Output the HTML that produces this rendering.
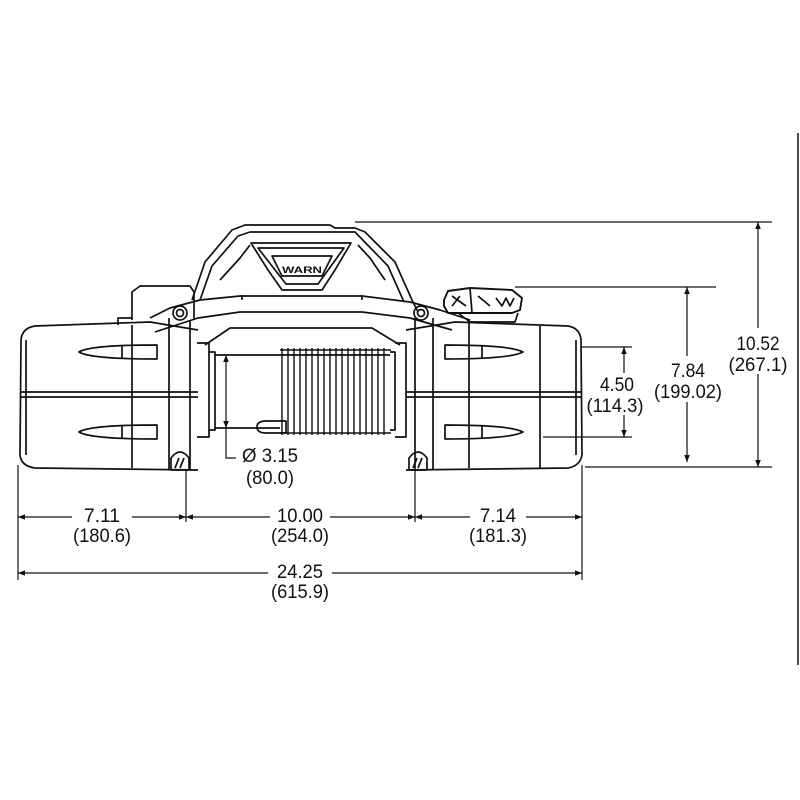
<!DOCTYPE html>
<html><head><meta charset="utf-8"><style>
html,body{margin:0;padding:0;background:#fff;}
svg{display:block;}
text{font-family:"Liberation Sans Narrow","Liberation Sans",sans-serif;font-size:19px;fill:#111;}
</style></head><body>
<svg width="800" height="800" viewBox="0 0 800 800" xmlns="http://www.w3.org/2000/svg">
<defs>
<marker id="a" viewBox="0 0 10 10" refX="10" refY="5" markerWidth="10" markerHeight="7" orient="auto-start-reverse" markerUnits="userSpaceOnUse"><path d="M0,1 L10,5 L0,9 z" fill="#111"/></marker>
</defs>
<rect width="800" height="800" fill="#fff"/>
<line x1="798" y1="133" x2="798" y2="665" stroke="#111" stroke-width="1.5"/>

<g fill="none" stroke="#111" stroke-width="1.7" stroke-linejoin="round">
<path d="M132,320 L132,292 L140,286 L190,286 L194,292 L194,320"/>
<path d="M118,325 L118,318 L132,318"/>
<path d="M192,300 L205,262 L232,230 L245,225 L330,225 L335,228 L355,228 L365,232 L395,262 L412,300 L418,312"/>
<path d="M200,300 L212,266 L238,236 L250,232 L355,232 L388,266 L404,302"/>
<path d="M220,280 L240,258 L250,245 M385,280 L370,258 L358,245"/>
<path d="M251,243 L351,243 L335,270 L322,290 L282,290 L268,270 Z"/>
<path d="M258,248 L344,248 L318,284 L286,284 Z"/>
<path d="M272,256 L332,256 L322,276 L282,276 Z"/>
<path d="M242,295 L242,300 M362,295 L362,300"/>
<path d="M150,318 L170,308 L200,300 L240,296 L362,296 L410,302 L440,310 L470,320"/>
<path d="M155,332 L198,318 L240,312 L362,312 L410,318 L452,330"/>
<path d="M205,345 L230,328 L372,328 L400,345"/>
<circle cx="180" cy="313" r="7"/><circle cx="180" cy="313" r="3.5"/>
<circle cx="421" cy="313" r="7"/><circle cx="421" cy="313" r="3.5"/>

<path d="M198,330 L150,322 L35,326 Q22,328 21,340 L20,455 Q21,466 35,468 L198,470"/>
<path d="M26,340 L26,455"/>
<path d="M21,397 L198,397"/>
<path d="M21,392 L198,392"/>
<path d="M132,325 L132,468 M169,318 L169,470 M190,320 L190,470"/>
<path d="M79,352 Q90,345 157,345 L157,359 Q90,359 79,352 Z"/>
<path d="M122,345 L122,359"/>
<path d="M79,432 Q90,425 157,425 L157,439 Q90,439 79,432 Z"/>
<path d="M122,425 L122,439"/>
<path d="M171,470 L171,458 Q180,446 189,458 L189,470 Z"/>
<path d="M175,468 L179,458 M180,468 L184,458"/>
<path d="M197,343 L209,343 L209,437 L197,437"/>
<path d="M209,352 L215,352 L215,430 L209,430"/>
<path d="M395,343 L406,343 L406,437 L395,437"/>
<path d="M390,352 L395,352 L395,430 L390,430"/>
<path d="M215,355 L390,355 M215,428 L280,428"/>
<g stroke-width="1.4">
<path d="M280,350 L391,350 M280,433 L391,433"/>
<path d="M282,348 L282,435 M288,348 L288,435 M294,348 L294,435 M300,348 L300,435 M306,348 L306,435 M312,348 L312,435 M318,348 L318,435 M324,348 L324,435 M330,348 L330,435 M336,348 L336,435 M342,348 L342,435 M348,348 L348,435 M354,348 L354,435 M360,348 L360,435 M366,348 L366,435 M372,348 L372,435 M378,348 L378,435 M384,348 L384,435"/>
</g>
<path d="M257,427 Q257,421 266,421 L286,421 L286,433 L266,433 Q257,433 257,427 Z"/>
<path d="M406,330 L455,322 L568,326 Q580,328 581,340 L582,455 Q580,466 568,468 L406,470"/>
<path d="M576,340 L576,455"/>
<path d="M406,397 L582,397 M406,392 L582,392"/>
<path d="M469,320 L469,468 M540,326 L540,468 M415,318 L415,470 M433,318 L433,470"/>
<path d="M523,352 Q510,345 445,345 L445,359 Q510,359 523,352 Z"/>
<path d="M482,345 L482,359"/>
<path d="M523,432 Q510,425 445,425 L445,439 Q510,439 523,432 Z"/>
<path d="M482,425 L482,439"/>
<path d="M409,470 L409,458 Q418,446 427,458 L427,470 Z"/>
<path d="M413,468 L417,458 M418,468 L422,458"/>
<path d="M444,300 L448,291 L470,288 L512,290 L522,298 L520,310 L512,313 L448,313 L444,306 Z" stroke-width="1.9"/>
<path d="M470,288 L472,313 M458,313 L470,322 L515,322 L518,313"/>
<path d="M452,296 L466,306 M460,296 L452,306 M478,296 L490,306 M496,298 L502,306 L506,298 L510,306 L514,298"/>
</g>

<g stroke="#111" stroke-width="1.2" fill="none">
<line x1="355" y1="222" x2="772" y2="222"/>
<line x1="515" y1="287" x2="716" y2="287"/>
<line x1="580" y1="347" x2="632" y2="347"/>
<line x1="543" y1="437" x2="632" y2="437"/>
<line x1="585" y1="467" x2="772" y2="467"/>
<line x1="758" y1="222" x2="758" y2="328" marker-start="url(#a)"/>
<line x1="758" y1="374" x2="758" y2="467" marker-end="url(#a)"/>
<line x1="687" y1="287" x2="687" y2="356" marker-start="url(#a)"/>
<line x1="687" y1="402" x2="687" y2="462" marker-end="url(#a)"/>
<line x1="624" y1="347" x2="624" y2="373" marker-start="url(#a)"/>
<line x1="624" y1="415" x2="624" y2="437" marker-end="url(#a)"/>
<line x1="226" y1="355" x2="226" y2="428" marker-start="url(#a)" marker-end="url(#a)"/>
<path d="M226,428 L226,458 L236,458"/>
<line x1="18" y1="465" x2="18" y2="580"/>
<line x1="186" y1="470" x2="186" y2="522"/>
<line x1="415" y1="470" x2="415" y2="522"/>
<line x1="582" y1="465" x2="582" y2="580"/>
<line x1="18" y1="517" x2="72" y2="517" marker-start="url(#a)"/>
<line x1="132" y1="517" x2="186" y2="517" marker-end="url(#a)"/>
<line x1="186" y1="517" x2="270" y2="517" marker-start="url(#a)"/>
<line x1="330" y1="517" x2="415" y2="517" marker-end="url(#a)"/>
<line x1="415" y1="517" x2="470" y2="517" marker-start="url(#a)"/>
<line x1="526" y1="517" x2="582" y2="517" marker-end="url(#a)"/>
<line x1="18" y1="573" x2="268" y2="573" marker-start="url(#a)"/>
<line x1="332" y1="573" x2="582" y2="573" marker-end="url(#a)"/>
</g>
<g text-anchor="middle">
<text x="758" y="350" textLength="43" lengthAdjust="spacingAndGlyphs">10.52</text>
<text x="758" y="371" textLength="59" lengthAdjust="spacingAndGlyphs">(267.1)</text>
<text x="688" y="377" textLength="34" lengthAdjust="spacingAndGlyphs">7.84</text>
<text x="688" y="398" textLength="68" lengthAdjust="spacingAndGlyphs">(199.02)</text>
<text x="617" y="391" textLength="34" lengthAdjust="spacingAndGlyphs">4.50</text>
<text x="615" y="412" textLength="57" lengthAdjust="spacingAndGlyphs">(114.3)</text>
<text x="270" y="462" textLength="56" lengthAdjust="spacingAndGlyphs">Ø 3.15</text>
<text x="270" y="484" textLength="48" lengthAdjust="spacingAndGlyphs">(80.0)</text>
<text x="102" y="522" textLength="36" lengthAdjust="spacingAndGlyphs">7.11</text>
<text x="102" y="542" textLength="58" lengthAdjust="spacingAndGlyphs">(180.6)</text>
<text x="300" y="522" textLength="46" lengthAdjust="spacingAndGlyphs">10.00</text>
<text x="300" y="542" textLength="58" lengthAdjust="spacingAndGlyphs">(254.0)</text>
<text x="498" y="522" textLength="36" lengthAdjust="spacingAndGlyphs">7.14</text>
<text x="498" y="542" textLength="58" lengthAdjust="spacingAndGlyphs">(181.3)</text>
<text x="300" y="578" textLength="46" lengthAdjust="spacingAndGlyphs">24.25</text>
<text x="300" y="598" textLength="58" lengthAdjust="spacingAndGlyphs">(615.9)</text>
</g>
<text x="302" y="273" text-anchor="middle" style="font-size:9px;font-weight:bold" textLength="40" lengthAdjust="spacingAndGlyphs">WARN</text>
</svg>
</body></html>
